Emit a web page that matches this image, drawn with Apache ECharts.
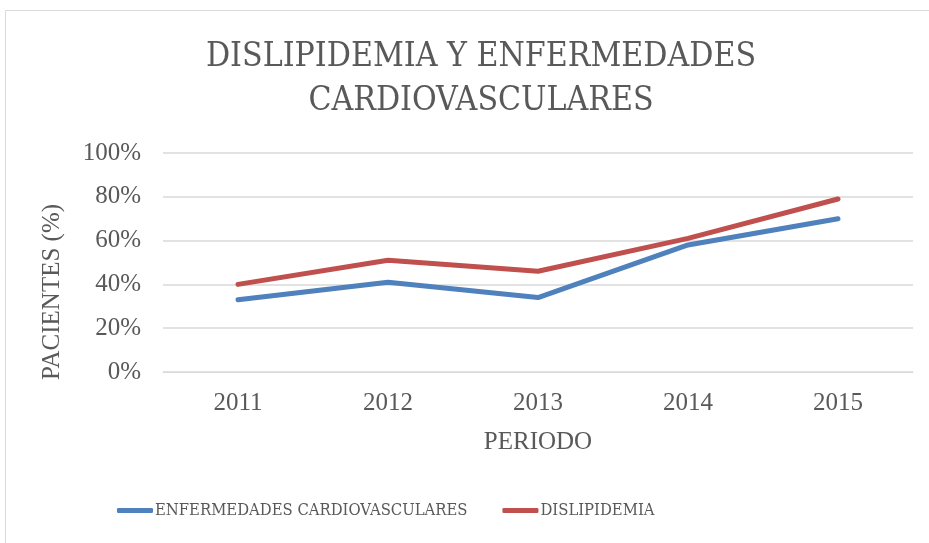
<!DOCTYPE html>
<html><head><meta charset="utf-8">
<script src="https://cdn.jsdelivr.net/npm/echarts@6/dist/echarts.min.js"></script>
<style>html,body{margin:0;padding:0;background:#fff}#c{width:929px;height:543px}</style>
</head><body><div id="c"></div>
<script>
const categories = ['2011','2012','2013','2014','2015'];
const enfermedades = [33, 41, 34, 58, 70];
const dislipidemia = [40, 51, 46, 61, 79];
const yTicks = [0, 20, 40, 60, 80, 100];

const txt = '#595959';
const serif = "'Liberation Serif', 'DejaVu Serif', serif";
const cond = "'DejaVu Serif Condensed', 'Liberation Serif', serif";
const chart = echarts.init(document.getElementById('c'));
chart.setOption({
  animation: false,
  backgroundColor: '#fff',
  graphic: [
    {type:'rect', shape:{x:5.5, y:10.5, width:940, height:560}, style:{fill:'none', stroke:'#d9d9d9', lineWidth:1}, silent:true},
    {type:'text', x: 52, y: 292, rotation: Math.PI/2, silent: true,
     style:{text:'PACIENTES (%)', font: "25px 'Liberation Serif', serif", fill: txt, align:'center', verticalAlign:'middle'}}
  ],
  title: {
    text: 'DISLIPIDEMIA Y ENFERMEDADES\nCARDIOVASCULARES',
    left: 476, top: 30, textAlign: 'center',
    textStyle: {fontFamily: cond, fontWeight: 'normal', fontSize: 33.5, color: txt, lineHeight: 44}
  },
  legend: {
    bottom: 19, left: 112, itemWidth: 36, itemHeight: 5, itemGap: 35,
    icon: 'roundRect',
    textStyle: {fontFamily: cond, fontSize: 16.5, color: txt, padding: [0,0,0,-3]},
    data: ['ENFERMEDADES CARDIOVASCULARES', 'DISLIPIDEMIA']
  },
  grid: {left: 163, right: 16, top: 153, bottom: 171},
  xAxis: {
    type: 'category', data: categories, boundaryGap: true,
    name: 'PERIODO', nameLocation: 'middle', nameGap: 58,
    nameTextStyle: {fontFamily: serif, fontSize: 25, color: txt},
    axisLine: {show: true, lineStyle: {color: '#d9d9d9'}},
    axisTick: {show: false},
    axisLabel: {fontFamily: serif, fontSize: 25, color: txt, margin: 19}
  },
  yAxis: {
    type: 'value', min: yTicks[0], max: yTicks[yTicks.length-1], interval: 20,
    axisLine: {show: false}, axisTick: {show: false},
    axisLabel: {fontFamily: serif, fontSize: 25, color: txt, margin: 22, formatter: '{value}%'},
    splitLine: {lineStyle: {color: '#d9d9d9', width: 1.5}}
  },
  series: [
    {name: 'ENFERMEDADES CARDIOVASCULARES', type: 'line', data: enfermedades, symbol: 'none',
     lineStyle: {color: '#4F81BD', width: 5, cap: 'round', join: 'round'}, itemStyle: {color: '#4F81BD'}},
    {name: 'DISLIPIDEMIA', type: 'line', data: dislipidemia, symbol: 'none',
     lineStyle: {color: '#C0504D', width: 5, cap: 'round', join: 'round'}, itemStyle: {color: '#C0504D'}}
  ]
});
</script></body></html>
